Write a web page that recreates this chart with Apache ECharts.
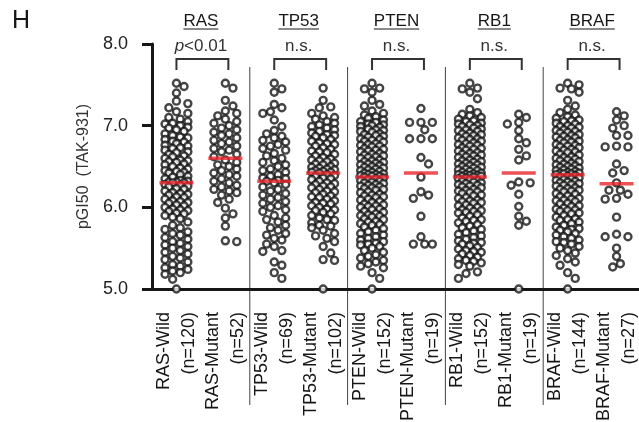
<!DOCTYPE html>
<html>
<head>
<meta charset="utf-8">
<script src="https://cdn.jsdelivr.net/npm/echarts@6/dist/echarts.min.js"></script>
<style>
  html, body { margin: 0; padding: 0; background: #fff; }
  #chart { width: 639px; height: 422px; }
</style>
</head>
<body>
<div id="chart"></div>
<script>
// ---- data ----
const genes = ['RAS', 'TP53', 'PTEN', 'RB1', 'BRAF'];
const pLabels = ['{i|p}<0.01', 'n.s.', 'n.s.', 'n.s.', 'n.s.'];
const categories = [
  'RAS-Wild\n(n=120)', 'RAS-Mutant\n(n=52)',
  'TP53-Wild\n(n=69)', 'TP53-Mutant\n(n=102)',
  'PTEN-Wild\n(n=152)', 'PTEN-Mutant\n(n=19)',
  'RB1-Wild\n(n=152)', 'RB1-Mutant\n(n=19)',
  'BRAF-Wild\n(n=144)', 'BRAF-Mutant\n(n=27)'
];
const medians = [6.30, 6.60, 6.32, 6.42, 6.37, 6.42, 6.37, 6.42, 6.40, 6.29];

const rasWild = [
  7.52, 7.48, 7.40, 7.30, 7.27, 7.22, 7.17, 7.15, 7.10, 7.08,
  7.05, 7.03, 7.02, 7.00, 6.98, 6.97, 6.95, 6.93,
  6.90, 6.88, 6.86, 6.85, 6.83, 6.81, 6.80, 6.78, 6.76, 6.75, 6.73, 6.72, 6.70, 6.68, 6.67, 6.65, 6.63, 6.62, 6.60,
  6.58, 6.57, 6.55, 6.53, 6.52, 6.50, 6.48, 6.47, 6.45, 6.43, 6.42, 6.40, 6.38, 6.37, 6.35, 6.33, 6.32, 6.31,
  6.31, 6.30, 6.30, 6.56, 6.44,
  6.28, 6.27, 6.25, 6.23, 6.22, 6.20, 6.18, 6.17, 6.15, 6.13, 6.12, 6.10, 6.08, 6.07, 6.05, 6.03, 6.02, 6.00,
  5.98, 5.97, 5.95, 5.93, 5.92, 5.90,
  5.86, 5.82, 5.78, 5.75, 5.73, 5.70, 5.68, 5.66, 5.63, 5.61, 5.58, 5.56,
  5.54, 5.52, 5.50, 5.47, 5.45, 5.43, 5.40, 5.38, 5.36, 5.33, 5.30, 5.28, 5.26, 5.24, 5.22, 5.20,
  5.18, 5.12, 5.00, 6.26, 6.16, 6.06, 5.96, 5.88
];
const rasMutant = [
  7.52, 7.46, 7.31, 7.24, 7.18, 7.15, 7.12, 7.08, 7.05, 7.03, 7.00, 6.97, 6.95,
  6.92, 6.90, 6.88, 6.85, 6.82, 6.80, 6.78, 6.75, 6.72, 6.70, 6.68, 6.65, 6.62,
  6.58, 6.55, 6.52, 6.50, 6.47, 6.45, 6.42, 6.40, 6.38, 6.35, 6.32, 6.30, 6.27,
  6.25, 6.22, 6.18, 6.15, 6.10, 6.06, 6.20,
  5.99, 5.87, 5.92, 5.77, 5.58, 5.59
];
const tp53Wild = [
  7.52, 7.45, 7.41, 7.26, 7.22, 7.17, 7.15, 7.07, 6.99, 6.94, 6.90, 6.87,
  6.85, 6.82, 6.80, 6.77, 6.75, 6.72, 6.70, 6.66, 6.63, 6.60, 6.57, 6.55,
  6.52, 6.50, 6.47, 6.45, 6.43, 6.40, 6.38, 6.36, 6.35, 6.33, 6.32,
  6.30, 6.28, 6.25, 6.22, 6.20, 6.17, 6.15, 6.12, 6.10, 6.07, 6.05, 6.02,
  6.00, 5.97, 5.95, 5.90, 5.87, 5.85, 5.82, 5.78, 5.75, 5.72, 5.68, 5.66,
  5.62, 5.55, 5.52, 5.47, 5.46, 5.33, 5.29, 5.20, 5.13, 5.60
];
const tp53Mutant = [
  7.46, 7.31, 7.23, 7.22, 7.15, 7.12, 7.10, 7.08, 7.05, 7.03,
  7.01, 6.99, 6.97, 6.95, 6.93, 6.91, 6.89, 6.87, 6.85, 6.83,
  6.81, 6.79, 6.77, 6.75, 6.73, 6.71, 6.69, 6.67, 6.65, 6.63,
  6.61, 6.59, 6.57, 6.56, 6.54, 6.53, 6.52, 6.50, 6.49, 6.48,
  6.47, 6.46, 6.45, 6.44, 6.43, 6.43, 6.42, 6.58, 6.68, 6.78, 6.88,
  6.40, 6.38, 6.36, 6.34, 6.32, 6.30, 6.28, 6.26, 6.24, 6.22,
  6.20, 6.18, 6.16, 6.14, 6.12, 6.10, 6.08, 6.06, 6.04, 6.02,
  6.00, 5.98, 5.96, 5.94, 5.92, 5.90, 5.87, 5.84, 5.81, 5.78,
  5.75, 5.72, 5.68, 5.65, 5.62, 5.58, 5.52, 5.44, 5.36, 5.35, 5.00,
  6.39, 6.35, 6.29, 6.25, 6.19, 6.13, 6.05, 5.97, 5.85, 5.77
];
const ptenWild = [
  7.52, 7.46, 7.45, 7.41, 7.31, 7.26, 7.24, 7.18, 7.15, 7.13,
  7.11, 7.09, 7.07, 7.05, 7.04, 7.02, 7.01, 6.99, 6.98, 6.96,
  6.95, 6.93, 6.92, 6.90, 6.89, 6.87, 6.86, 6.84, 6.83, 6.81,
  6.80, 6.78, 6.77, 6.75, 6.74, 6.72, 6.71, 6.69, 6.68, 6.66,
  6.65, 6.63, 6.62, 6.61, 6.60, 6.58, 6.57, 6.56, 6.55, 6.53,
  6.52, 6.51, 6.50, 6.49, 6.48, 6.47, 6.46, 6.45, 6.44, 6.43,
  6.42, 6.41, 6.40, 6.40, 6.39, 6.38, 6.38, 6.37,
  6.54, 6.64, 6.70, 6.76, 6.82, 6.88, 6.94, 7.00,
  6.36, 6.35, 6.34, 6.33, 6.32, 6.31, 6.30, 6.29, 6.28, 6.27,
  6.26, 6.25, 6.23, 6.22, 6.21, 6.19, 6.18, 6.16, 6.15, 6.13,
  6.12, 6.10, 6.09, 6.07, 6.06, 6.04, 6.03, 6.01, 6.00, 5.98,
  5.97, 5.95, 5.94, 5.92, 5.91, 5.89, 5.88, 5.86, 5.85, 5.83,
  5.82, 5.80, 5.78, 5.76, 5.74, 5.72, 5.70, 5.68, 5.66, 5.64,
  5.62, 5.60, 5.58, 5.56, 5.54, 5.52, 5.50, 5.47, 5.45, 5.42,
  5.40, 5.38, 5.35, 5.33, 5.31, 5.28, 5.26, 5.20, 5.13, 5.00,
  6.24, 6.14, 6.02, 5.90, 5.79, 5.55
];
const ptenMutant = [
  7.21, 7.04, 7.04, 7.04, 6.95, 6.84, 6.84, 6.84, 6.61, 6.53,
  6.37, 6.19, 6.15, 6.11, 5.89, 5.55, 5.55, 5.55, 5.64
];
const rb1Wild = [
  7.52, 7.46, 7.45, 7.41, 7.33, 7.20, 7.16, 7.14, 7.12, 7.10,
  7.08, 7.06, 7.05, 7.03, 7.02, 7.00, 6.99, 6.97, 6.96, 6.94,
  6.93, 6.91, 6.90, 6.88, 6.87, 6.85, 6.84, 6.82, 6.81, 6.79,
  6.78, 6.76, 6.75, 6.73, 6.72, 6.70, 6.69, 6.67, 6.66, 6.64,
  6.63, 6.62, 6.61, 6.59, 6.58, 6.57, 6.56, 6.54, 6.53, 6.52,
  6.51, 6.50, 6.49, 6.48, 6.47, 6.46, 6.45, 6.44, 6.43, 6.42,
  6.41, 6.40, 6.40, 6.39, 6.39, 6.38, 6.38, 6.37, 6.55, 6.65,
  6.71, 6.77, 6.83, 6.89, 6.95, 7.01,
  6.36, 6.35, 6.34, 6.33, 6.32, 6.31, 6.30, 6.29, 6.27, 6.26,
  6.25, 6.24, 6.22, 6.21, 6.20, 6.18, 6.17, 6.15, 6.14, 6.12,
  6.11, 6.09, 6.08, 6.06, 6.05, 6.03, 6.02, 6.00, 5.99, 5.97,
  5.96, 5.94, 5.93, 5.91, 5.89, 5.87, 5.85, 5.83, 5.81, 5.79,
  5.77, 5.75, 5.73, 5.71, 5.69, 5.67, 5.65, 5.63, 5.61, 5.59,
  5.57, 5.55, 5.53, 5.51, 5.49, 5.47, 5.45, 5.43, 5.41, 5.39,
  5.37, 5.35, 5.34, 5.32, 5.30, 5.28, 5.21, 5.19, 5.13, 6.28,
  6.19, 6.07, 5.95, 5.84, 5.56, 5.46
];
const rb1Mutant = [
  7.14, 7.10, 7.04, 7.02, 6.94, 6.84, 6.79, 6.71, 6.63, 6.58,
  6.31, 6.30, 6.27, 6.16, 6.01, 5.89, 5.83, 5.78, 5.00
];
const brafWild = [
  7.52, 7.50, 7.46, 7.45, 7.41, 7.31, 7.24, 7.20, 7.16, 7.13,
  7.11, 7.09, 7.07, 7.05, 7.03, 7.02, 7.00, 6.98, 6.97, 6.95,
  6.94, 6.92, 6.91, 6.89, 6.88, 6.86, 6.85, 6.83, 6.82, 6.80,
  6.79, 6.77, 6.76, 6.74, 6.73, 6.71, 6.70, 6.68, 6.67, 6.65,
  6.64, 6.62, 6.61, 6.60, 6.58, 6.57, 6.56, 6.54, 6.53, 6.52,
  6.51, 6.50, 6.49, 6.48, 6.47, 6.46, 6.45, 6.44, 6.43, 6.42,
  6.42, 6.41, 6.41, 6.40, 6.59, 6.69, 6.75, 6.81, 6.87, 6.93,
  6.99, 7.06,
  6.39, 6.38, 6.37, 6.36, 6.35, 6.34, 6.33, 6.32, 6.31, 6.30,
  6.28, 6.27, 6.26, 6.24, 6.23, 6.22, 6.20, 6.19, 6.17, 6.16,
  6.14, 6.13, 6.11, 6.10, 6.08, 6.07, 6.05, 6.04, 6.02, 6.01,
  5.99, 5.98, 5.96, 5.95, 5.93, 5.92, 5.90, 5.88, 5.86, 5.84,
  5.82, 5.80, 5.78, 5.76, 5.74, 5.72, 5.70, 5.68, 5.66, 5.64,
  5.62, 5.60, 5.57, 5.55, 5.52, 5.50, 5.47, 5.44, 5.41, 5.37,
  5.33, 5.29, 5.20, 5.13, 5.00, 6.29, 6.21, 6.09, 5.97, 5.85,
  5.73, 5.58
];
const brafMutant = [
  7.17, 7.12, 7.07, 7.00, 6.97, 6.88, 6.88, 6.75, 6.74, 6.74,
  6.53, 6.45, 6.42, 6.30, 6.21, 6.21, 6.16, 6.11, 6.10, 5.88,
  5.67, 5.64, 5.64, 5.50, 5.40, 5.31, 5.27
];

const groups = [rasWild, rasMutant, tp53Wild, tp53Mutant, ptenWild,
  ptenMutant, rb1Wild, rb1Mutant, brafWild, brafMutant];

// ---- layout ----
const FONT = '"Liberation Sans", Arial, sans-serif';
const INK = '#161616';
const GRID = { left: 152, top: 44, width: 489, height: 245, outerBoundsMode: 'none' };
const Y_MIN = 5, Y_MAX = 8;
const bandPx = GRID.width / categories.length;
const unitPx = GRID.height / (Y_MAX - Y_MIN);

// simple bee-swarm: spread points sideways in a few slots, allow overlap when crowded
const STEP = 3.8, DIST = 8;
const slots = [0, STEP, -STEP, 2 * STEP, -2 * STEP, 3 * STEP, -3 * STEP];
const swarm = (values, idx) => {
  const placed = [];
  return values.slice().sort((a, b) => b - a).map(v => {
    const y = v * unitPx;
    let best = 0, bestD = -1;
    for (const s of slots) {
      let d = Infinity;
      placed.forEach(p => { d = Math.min(d, Math.hypot(p[0] - s, p[1] - y)); });
      if (d >= DIST) { best = s; break; }
      if (d > bestD) { bestD = d; best = s; }
    }
    placed.push([best, y]);
    return [idx + 0.5 + best / bandPx, v];
  });
};

const pointSeries = groups.map((vals, i) => ({
  type: 'scatter',
  xAxisIndex: 1,
  data: swarm(vals, i),
  symbol: 'circle',
  symbolSize: 7,
  clip: false,
  silent: true,
  z: 3,
  itemStyle: { color: '#fff', borderColor: INK, borderWidth: 2.4 }
}));

const chart = echarts.init(document.getElementById('chart'));

chart.setOption({
  animation: false,
  backgroundColor: '#fff',
  grid: GRID,
  xAxis: [
    {
      type: 'category',
      data: categories,
      axisLine: { lineStyle: { color: INK, width: 3 } },
      axisTick: { alignWithLabel: true, length: 8, lineStyle: { color: INK, width: 2.5 } },
      axisLabel: {
        interval: 0,
        rotate: 90,
        margin: 23,
        fontSize: 18,
        lineHeight: 25,
        color: INK,
        fontFamily: FONT
      },
      splitLine: { show: false }
    },
    {
      type: 'value',
      min: 0,
      max: categories.length,
      show: false
    }
  ],
  yAxis: {
    type: 'value',
    min: Y_MIN,
    max: Y_MAX,
    interval: 1,
    name: 'pGI50  (TAK-931)',
    nameLocation: 'middle',
    nameGap: 60,
    nameTextStyle: { fontSize: 16, color: '#333', fontFamily: FONT },
    axisLine: { show: true, lineStyle: { color: INK, width: 3 } },
    axisTick: { show: true, length: 10, lineStyle: { color: INK, width: 3 } },
    axisLabel: {
      margin: 24,
      fontSize: 18,
      color: '#222',
      fontFamily: FONT,
      formatter: v => v.toFixed(1)
    },
    splitLine: { show: false }
  },
  series: [
    ...pointSeries,
    {
      type: 'scatter',
      xAxisIndex: 1,
      data: medians.map((m, i) => [i + 0.5, m]),
      symbol: 'rect',
      symbolSize: [34, 3.5],
      clip: false,
      silent: true,
      z: 5,
      itemStyle: { color: '#e8262c' }
    }
  ]
});

// ---- annotations (dividers, brackets, gene titles, p values) ----
const measure = (() => {
  const ctx = document.createElement('canvas').getContext('2d');
  return (txt, size) => { ctx.font = size + 'px ' + FONT; return ctx.measureText(txt).width; };
})();
const xPx = v => chart.convertToPixel({ xAxisIndex: 1 }, v);

const TITLE_Y = 21, P_Y = 46, BR_TOP = 59, BR_BOT = 70;
const graphics = [{
  type: 'text', left: 12, top: 9,
  style: { text: 'H', fontSize: 25, fill: INK, fontFamily: FONT }
}];

genes.forEach((g, k) => {
  const xw = xPx(2 * k + 0.5), xm = xPx(2 * k + 1.5), xc = (xw + xm) / 2;
  const w = measure(g, 17);
  graphics.push(
    { type: 'text', x: xc, y: TITLE_Y,
      style: { text: g, fontSize: 17, fill: INK, fontFamily: FONT, align: 'center', verticalAlign: 'middle' } },
    { type: 'line', shape: { x1: xc - w / 2, y1: TITLE_Y + 8, x2: xc + w / 2, y2: TITLE_Y + 8 },
      style: { stroke: INK, lineWidth: 1.2 } },
    { type: 'text', x: xc, y: P_Y,
      style: { text: pLabels[k], fontSize: 17, fill: '#333', fontFamily: FONT, align: 'center', verticalAlign: 'middle',
        rich: { i: { fontStyle: 'italic', fontSize: 17, fill: '#333', fontFamily: FONT } } } },
    { type: 'polyline', shape: { points: [[xw, BR_BOT], [xw, BR_TOP], [xm + 3, BR_TOP], [xm + 3, BR_BOT]] },
      style: { stroke: '#333', lineWidth: 2, fill: null } }
  );
  if (k > 0) {
    const xd = xPx(2 * k);
    graphics.push({ type: 'line', shape: { x1: xd, y1: 67, x2: xd, y2: 405 },
      style: { stroke: '#444', lineWidth: 1 } });
  }
});

chart.setOption({ graphic: graphics });
</script>
</body>
</html>
